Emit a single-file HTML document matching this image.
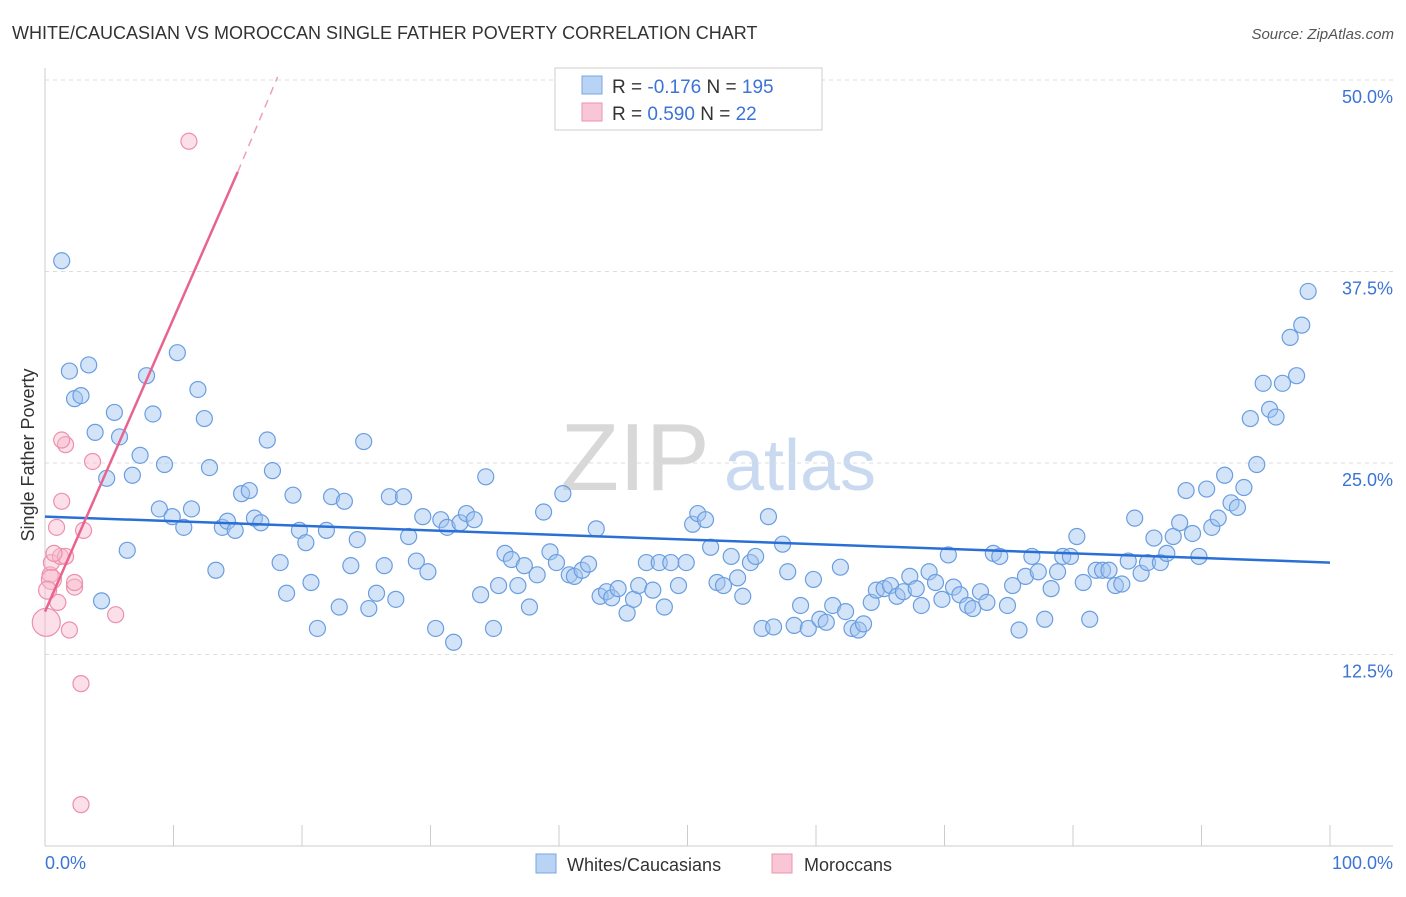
<!DOCTYPE html>
<html><head><meta charset="utf-8"><style>
body{margin:0;background:#fff;font-family:"Liberation Sans",sans-serif;}
svg text{font-family:"Liberation Sans",sans-serif;}
</style></head><body>
<svg width="1406" height="892" viewBox="0 0 1406 892">
<text x="12" y="39" font-size="18" fill="#333">WHITE/CAUCASIAN VS MOROCCAN SINGLE FATHER POVERTY CORRELATION CHART</text>
<text x="1394" y="39" font-size="15" fill="#555" font-style="italic" text-anchor="end">Source: ZipAtlas.com</text>
<text x="635" y="490" font-size="96" fill="#d8d8d8" font-family="Liberation Serif" text-anchor="middle">ZIP</text>
<text x="800" y="490" font-size="72" fill="#c9daf0" text-anchor="middle">atlas</text>
<g id="grid"></g>
<g id="axes"></g>
<text transform="translate(34,455) rotate(-90)" font-size="18" fill="#333" text-anchor="middle">Single Father Poverty</text>
<text x="45" y="869" font-size="18" fill="#3b74d6">0.0%</text>
<text x="1393" y="869" font-size="18" fill="#3b74d6" text-anchor="end">100.0%</text>
<g id="pts"></g>
<g id="trend"></g>
<g>
<rect x="555" y="68" width="267" height="62" fill="#fff" stroke="#ccc"/>
<rect x="582" y="76" width="20" height="18" fill="#b9d3f5" stroke="#7aa6e0"/>
<rect x="582" y="103" width="20" height="18" fill="#f9c6d5" stroke="#eb94b0"/>
<text x="612" y="93" font-size="19" fill="#333">R = <tspan fill="#3b74d6">-0.176</tspan>   N = <tspan fill="#3b74d6">195</tspan></text>
<text x="612" y="120" font-size="19" fill="#333">R = <tspan fill="#3b74d6"> 0.590</tspan>   N = <tspan fill="#3b74d6">  22</tspan></text>
</g>
<g>
<rect x="536" y="854" width="20" height="19" fill="#b9d3f5" stroke="#7aa6e0"/>
<text x="567" y="871" font-size="18" fill="#333">Whites/Caucasians</text>
<rect x="772" y="854" width="20" height="19" fill="#f9c6d5" stroke="#eb94b0"/>
<text x="804" y="871" font-size="18" fill="#333">Moroccans</text>
</g>
</svg>
<script>
const yTicks=[12.5,25,37.5,50];
const yTickLabels=["12.5%","25.0%","37.5%","50.0%"];
const blueX=[1.3,1.9,3.4,2.3,2.8,3.9,5.4,5.8,4.8,6.4,4.4,6.8,7.4,7.9,8.4,8.9,9.3,9.9,10.3,10.8,11.4,11.9,12.4,12.8,13.3,13.8,14.2,14.8,15.3,15.9,16.3,16.8,17.3,17.7,18.3,18.8,19.3,19.8,20.3,20.7,21.2,21.9,22.3,22.9,23.3,23.8,24.3,24.8,25.2,25.8,26.4,26.8,27.3,27.9,28.3,28.9,29.4,29.8,30.4,30.8,31.3,31.8,32.3,32.8,33.4,33.9,34.3,34.9,35.3,35.8,36.3,36.8,37.3,37.7,38.3,38.8,39.3,39.8,40.3,40.8,41.2,41.8,42.3,42.9,43.2,43.7,44.1,44.6,45.3,45.8,46.2,46.8,47.3,47.8,48.2,48.7,49.3,49.9,50.4,50.8,51.4,51.8,52.3,52.8,53.4,53.9,54.3,54.9,55.3,55.8,56.3,56.7,57.4,57.8,58.3,58.8,59.4,59.8,60.3,60.8,61.3,61.9,62.3,62.8,63.3,63.7,64.3,64.7,65.3,65.8,66.3,66.8,67.3,67.8,68.2,68.8,69.3,69.8,70.3,70.7,71.2,71.8,72.2,72.8,73.3,73.8,74.3,74.9,75.3,75.8,76.3,76.8,77.3,77.8,78.3,78.8,79.2,79.8,80.3,80.8,81.3,81.8,82.3,82.8,83.3,83.8,84.3,84.8,85.3,85.8,86.3,86.8,87.3,87.8,88.3,88.8,89.3,89.8,90.4,90.8,91.3,91.8,92.3,92.8,93.3,93.8,94.3,94.8,95.3,95.8,96.3,96.9,97.4,97.8,98.3];
const blueY=[38.2,31.0,31.4,29.2,29.4,27.0,28.3,26.7,24.0,19.3,16.0,24.2,25.5,30.7,28.2,22.0,24.9,21.5,32.2,20.8,22.0,29.8,27.9,24.7,18.0,20.8,21.2,20.6,23.0,23.2,21.4,21.1,26.5,24.5,18.5,16.5,22.9,20.6,19.8,17.2,14.2,20.6,22.8,15.6,22.5,18.3,20.0,26.4,15.5,16.5,18.3,22.8,16.1,22.8,20.2,18.6,21.5,17.9,14.2,21.3,20.8,13.3,21.1,21.7,21.3,16.4,24.1,14.2,17.0,19.1,18.7,17.0,18.3,15.6,17.7,21.8,19.2,18.5,23.0,17.7,17.6,18.0,18.4,20.7,16.3,16.6,16.2,16.8,15.2,16.1,17.0,18.5,16.7,18.5,15.6,18.5,17.0,18.5,21.0,21.7,21.3,19.5,17.2,17.0,18.9,17.5,16.3,18.5,18.9,14.2,21.5,14.3,19.7,17.9,14.4,15.7,14.2,17.4,14.8,14.6,15.7,18.2,15.3,14.2,14.1,14.5,15.9,16.7,16.8,17.0,16.3,16.6,17.6,16.8,15.7,17.9,17.2,16.1,19.0,16.9,16.4,15.7,15.5,16.6,15.9,19.1,18.9,15.7,17.0,14.1,17.6,18.9,17.9,14.8,16.8,17.9,18.9,18.9,20.2,17.2,14.8,18.0,18.0,18.0,17.0,17.1,18.6,21.4,17.8,18.5,20.1,18.5,19.1,20.2,21.1,23.2,20.4,18.9,23.3,20.8,21.4,24.2,22.4,22.1,23.4,27.9,24.9,30.2,28.5,28.0,30.2,33.2,30.7,34.0,36.2];
const pinkX=[11.2,2.8,2.8,1.9,5.5,1.0,2.3,2.3,0.4,0.5,1.2,1.6,0.7,3.0,0.9,1.3,3.7,1.6,1.3,0.1,0.5,0.2];
const pinkY=[46.0,2.7,10.6,14.1,15.1,15.9,16.9,17.2,17.7,18.5,18.9,18.9,19.1,20.6,20.8,22.5,25.1,26.2,26.5,14.6,17.4,16.7];
const pinkR=[8,8,8,8,8,8,8,8,8,8,8,8,8,8,8,8,8,8,8,14,10,9];
const blueTrend=[[0,21.5],[100,18.5]];
const pinkTrendSolid=[[0,15.3],[15,44.0]];
const pinkTrendDash=[[15,44.0],[18.1,50.2]];
const NS="http://www.w3.org/2000/svg";
const X=v=>45+v*12.85, Y=v=>846-v*15.32;
function mk(t,a,p){const e=document.createElementNS(NS,t);for(const k in a)e.setAttribute(k,a[k]);p.appendChild(e);return e;}
const grid=document.getElementById('grid'),axes=document.getElementById('axes'),pts=document.getElementById('pts'),tr=document.getElementById('trend');
yTicks.forEach((t,i)=>{
 const l=mk('line',{x1:45,x2:1393,y1:Y(t),y2:Y(t),stroke:'#ddd','stroke-dasharray':'4,4'},grid);
 
 
 const tx=mk('text',{x:1393,y:Y(t)+23,'font-size':18,fill:'#3b74d6','text-anchor':'end'},grid);
 tx.textContent=yTickLabels[i];
 
 
});
const ya=mk('line',{x1:45,x2:45,y1:68,y2:846,stroke:'#ccc'},axes);


const xa=mk('line',{x1:45,x2:1393,y1:846,y2:846,stroke:'#ccc'},axes);


for(let i=0;i<=10;i++){const tk=mk('line',{x1:X(i*10),x2:X(i*10),y1:825,y2:846,stroke:'#ccc'},axes);
 
 }
blueX.forEach((v,i)=>{const c=mk('circle',{cx:X(v),cy:Y(blueY[i]),r:8,fill:'rgba(160,196,240,0.45)',stroke:'#6a9ee0','stroke-width':1.2},pts);
 
 });
pinkX.forEach((v,i)=>{const c=mk('circle',{cx:X(v),cy:Y(pinkY[i]),r:pinkR[i],fill:'rgba(248,185,205,0.45)',stroke:'#ec90ad','stroke-width':1.2},pts);
 
 });
const bl=mk('line',{x1:X(blueTrend[0][0]),y1:Y(blueTrend[0][1]),x2:X(blueTrend[1][0]),y2:Y(blueTrend[1][1]),stroke:'#2a6fd6','stroke-width':2.5},tr);


const pl=mk('line',{x1:X(pinkTrendSolid[0][0]),y1:Y(pinkTrendSolid[0][1]),x2:X(pinkTrendSolid[1][0]),y2:Y(pinkTrendSolid[1][1]),stroke:'#e8648e','stroke-width':2.5},tr);


const pd=mk('line',{x1:X(pinkTrendDash[0][0]),y1:Y(pinkTrendDash[0][1]),x2:X(pinkTrendDash[1][0]),y2:Y(pinkTrendDash[1][1]),stroke:'#eda0b8','stroke-width':1.5,'stroke-dasharray':'8,6'},tr);


</script>
</body></html>
